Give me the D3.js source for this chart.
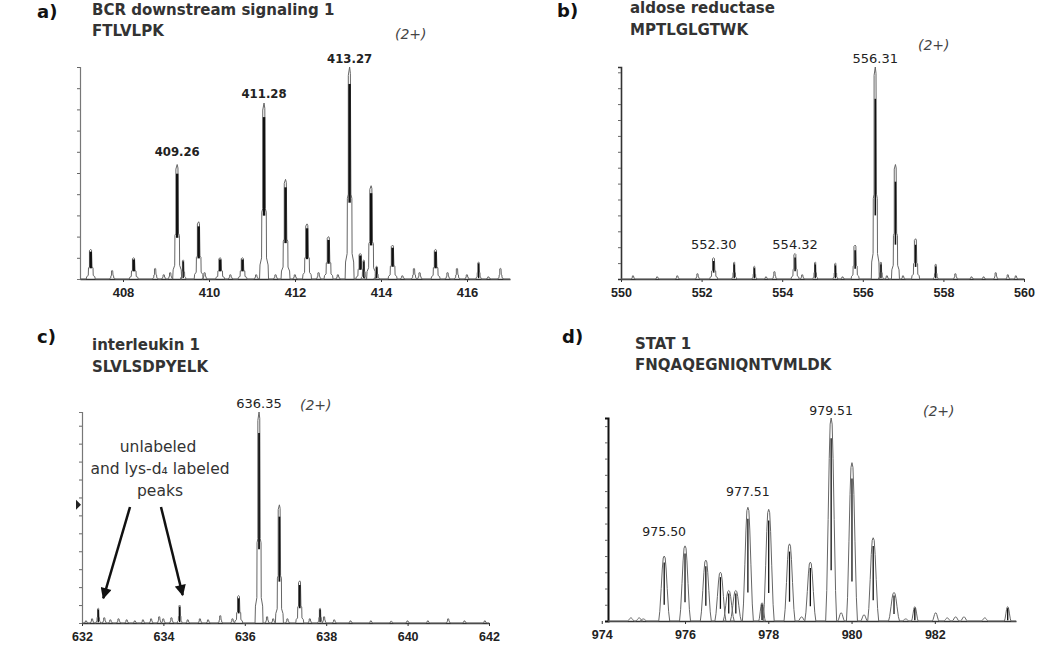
<!DOCTYPE html>
<html><head><meta charset="utf-8">
<script src="https://cdn.jsdelivr.net/npm/d3@7"></script>
<style>body{margin:0;background:#fff} svg{display:block}</style>
</head><body><svg id="chart" width="1050" height="668"></svg>
<script>
// ---------- DATA (m/z, relative intensity %) ----------
const peaksA = [[407.25,14],[407.75,4],[408.25,10],[408.75,5],[408.95,2],[409.1,3],[409.26,54],[409.4,9],[409.76,27],[409.9,3],[410.26,10],[410.5,2],[410.78,10],[411.1,2],[411.28,83],[411.55,2],[411.78,47],[412.0,2],[412.28,26],[412.55,3],[412.78,20],[413.0,2],[413.27,100],[413.52,12],[413.6,9],[413.77,44],[413.9,6],[414.27,16],[414.5,1.5],[414.77,5],[414.9,3],[415.27,14],[415.55,3],[415.77,5],[416.0,2],[416.27,8],[416.5,1],[416.78,5]];
const peaksB = [[550.3,1.5],[550.9,1],[551.4,1.5],[551.9,2.5],[552.30,10],[552.81,8],[553.31,6],[553.6,1],[553.81,3.5],[554.32,12],[554.5,2],[554.82,8],[555.32,7.5],[555.5,1],[555.81,16],[556.31,100],[556.45,8],[556.6,1.5],[556.81,54],[557.0,1.5],[557.31,19],[557.81,7],[558.3,2.5],[558.7,1],[559.0,1],[559.3,3],[559.6,2],[559.8,1.5]];
const peaksC = [[632.1,1],[632.25,2],[632.4,7],[632.55,2.5],[632.7,1.5],[632.9,2],[633.1,1.5],[633.3,1],[633.5,1.5],[633.7,2],[633.9,3],[634.0,2],[634.2,2.5],[634.4,8.5],[634.6,1.5],[634.9,2],[635.1,1.5],[635.4,3.5],[635.7,2],[635.85,13],[636.35,100],[636.55,3],[636.7,2],[636.85,56],[637.05,2],[637.35,20],[637.6,2],[637.85,7],[637.95,3],[638.2,1.5],[638.6,1],[639.1,1],[639.6,0.8],[640.0,1],[640.5,1],[641.0,2],[641.4,1],[641.9,1]];
const peaksD = [[974.7,1.5],[974.9,1.5],[975.0,1],[975.50,32],[976.00,37],[976.50,30],[976.85,24],[977.05,15],[977.22,15],[977.51,56],[977.85,9],[978.01,55],[978.51,38],[978.8,2],[979.01,29],[979.51,100],[979.75,4],[980.01,78],[980.3,3],[980.52,41],[981.02,14],[981.3,1],[981.52,7],[982.02,4],[982.3,1.5],[982.5,2],[982.7,2],[983.2,1.5],[983.75,7]];

const labelsA = ["409.26","411.28","413.27"];
const labelsB = ["552.30","554.32","556.31"];
const labelsC = ["636.35"];
const labelsD = ["975.50","977.51","979.51"];

const ticksA = [408,410,412,414,416];
const ticksB = [550,552,554,556,558,560];
const ticksC = [632,634,636,638,640,642];
const ticksD = [974,976,978,980,982];

const titlesA = ["a)","BCR downstream signaling 1","FTLVLPK"];
const titlesB = ["b)","aldose reductase","MPTLGLGTWK"];
const titlesC = ["c)","interleukin 1","SLVLSDPYELK"];
const titlesD = ["d)","STAT 1","FNQAQEGNIQNTVMLDK"];
const charge = "(2+)";
const annotC = ["unlabeled","and lys-d\u2084 labeled","peaks"];
const arrowTargetsC = [632.4, 634.4];

// ---------- LAYOUT ----------
// peak outline profiles: [relative x (fraction of base half-width, or 't' for top half-width), relative height]
const stepProfile = [[-1,0,"b"],[-0.9,0.08,"b"],[-0.55,0.12,"b"],[-0.5,0.38,"b"],[-1,0.4,"t"],[-1,0.96,"t"],[0,1,"t"],
                     [0.6,0.97,"t"],[1,0.4,"t"],[0.5,0.38,"b"],[0.55,0.12,"b"],[0.9,0.08,"b"],[1,0,"b"]];
const roundProfile = [[-1,0,"b"],[-0.8,0.15,"b"],[-0.55,0.5,"b"],[-0.35,0.8,"b"],[-1,0.97,"t"],[0,1,"t"],
                      [1,0.97,"t"],[0.35,0.8,"b"],[0.55,0.5,"b"],[0.8,0.15,"b"],[1,0,"b"]];

const panels = [
  {peaks:peaksA, labels:labelsA, ticks:ticksA, titles:titlesA, dom:[407,417], xr:[80,510], yr:[279,67],
   tx:37, ty:[18,15,36], chg:[395,39], lblFont:"bold 11.7px 'DejaVu Sans'", lblDy:{"409.26":9,"411.28":5,"413.27":4},
   tickFont:"bold 13px 'Liberation Sans Narrow','Liberation Sans'", ytick:10, yaxisColor:"#777", yaxisW:1.2,
   wb:4.5, wt:1.3, prof:stepProfile, core:[0.36,0.92], coreW:2.4},
  {peaks:peaksB, labels:labelsB, ticks:ticksB, titles:titlesB, dom:[550,560], xr:[621,1024], yr:[279,67],
   tx:557, ty:[17,13,35], chg:[918,50], lblFont:"13px 'DejaVu Sans'", lblDy:{"552.30":9,"554.32":5,"556.31":4},
   tickFont:"bold 12.5px 'Liberation Sans'", ytick:7.5, yaxisColor:"#333", yaxisW:1.6,
   wb:4, wt:1.2, prof:stepProfile, core:[0.3,0.85], coreW:1.6},
  {peaks:peaksC, labels:labelsC, ticks:ticksC, titles:titlesC, dom:[632,642], xr:[82,489], yr:[623,412],
   tx:37, ty:[343,350,372], chg:[300,410], lblFont:"13px 'DejaVu Sans'", lblDy:{"636.35":4},
   tickFont:"bold 12.5px 'Liberation Sans'", ytick:8.5, yaxisColor:"#777", yaxisW:1.2,
   wb:4, wt:1.2, prof:stepProfile, core:[0.35,0.9], coreW:1.8},
  {peaks:peaksD, labels:labelsD, ticks:ticksD, titles:titlesD, dom:[974.15,983.95], xr:[608,1016], yr:[621,418],
   tx:562, ty:[343,349,370], chg:[923,416], lblFont:"12.5px 'DejaVu Sans'", lblDy:{"975.50":20,"977.51":11,"979.51":3},
   tickFont:"bold 12.5px 'Liberation Sans'", ytick:8, yaxisColor:"#111", yaxisW:2,
   wb:5.5, wt:1, prof:roundProfile, core:[0.25,0.9], coreW:1.3}
];

const svg = d3.select("#chart");
const defs = svg.append("defs");
defs.append("marker").attr("id","ah").attr("viewBox","0 0 10 10").attr("refX",9).attr("refY",5)
  .attr("markerWidth",5).attr("markerHeight",4.5).attr("markerUnits","strokeWidth").attr("orient","auto")
  .append("path").attr("d","M0,0 L10,5 L0,10 Z").attr("fill","#111");

panels.forEach((p, i) => {
  const g = svg.append("g");
  const x = d3.scaleLinear().domain(p.dom).range(p.xr);
  const y = d3.scaleLinear().domain([0,100]).range(p.yr);

  // titles
  g.append("text").attr("x",p.tx).attr("y",p.ty[0]).text(p.titles[0])
    .style("font","bold 18px 'DejaVu Sans'").attr("fill","#111");
  g.append("text").attr("x",p.tx+55+(i%2?18:0)).attr("y",p.ty[1]).text(p.titles[1])
    .style("font","bold 15px 'DejaVu Sans'").attr("fill","#333");
  g.append("text").attr("x",p.tx+55+(i%2?18:0)).attr("y",p.ty[2]).text(p.titles[2])
    .style("font","bold 15px 'DejaVu Sans'").attr("fill","#333");
  g.append("text").attr("x",p.chg[0]).attr("y",p.chg[1]).text(charge)
    .style("font","italic 14px 'DejaVu Sans'").attr("fill","#444");

  // y axis (left, small ticks, no labels)
  const yAxis = d3.axisLeft(y).tickValues(d3.range(p.ytick, 100.01, p.ytick)).tickSize(3).tickFormat("");
  const ya = g.append("g").attr("transform",`translate(${p.xr[0]},0)`).call(yAxis);
  ya.select(".domain").attr("stroke",p.yaxisColor).attr("stroke-width",p.yaxisW);
  ya.selectAll(".tick line").attr("stroke","#666");

  // x axis
  const xAxis = d3.axisBottom(x).tickValues(p.ticks).tickSize(3).tickSizeOuter(0).tickFormat(d3.format("d"));
  const xa = g.append("g").attr("transform",`translate(0,${p.yr[0]})`).call(xAxis);
  xa.select(".domain").attr("stroke","#333").attr("stroke-width",1.5);
  xa.selectAll(".tick line").attr("stroke","#333");
  xa.selectAll(".tick text").style("font",p.tickFont).attr("fill","#222").attr("dy","0.95em");

  // spectrum outline
  const sorted = p.peaks.slice().sort((a,b)=>a[0]-b[0]);
  const pts = [[x(p.dom[0]), y(0)]];
  sorted.forEach(([mz, h]) => {
    const cx = x(mz);
    const big = h >= 10;
    const wb = big ? p.wb : p.wb*0.6, wt = big ? p.wt : p.wt*0.6;
    p.prof.forEach(([fx, fy, kind]) => pts.push([cx + fx*(kind==="b"?wb:wt), y(h*fy)]));
  });
  pts.push([x(p.dom[1]), y(0)]);
  g.append("path").attr("d", d3.line()(pts)).attr("fill","none")
    .attr("stroke","#666").attr("stroke-width",1).attr("stroke-linejoin","round");

  // dark centre traces
  g.selectAll("line.core").data(sorted.filter(d => d[1] >= 6)).join("line")
    .attr("x1", d => x(d[0])).attr("x2", d => x(d[0]))
    .attr("y1", d => y(d[1]*(d[1] >= 10 ? p.core[0] : 0.05))).attr("y2", d => y(d[1]*p.core[1]))
    .attr("stroke","#111").attr("stroke-width", d => d[1] >= 10 ? p.coreW : 1.4);

  // peak labels
  p.labels.forEach(lbl => {
    const mz = +lbl;
    const pk = sorted.reduce((a,b)=> Math.abs(b[0]-mz) < Math.abs(a[0]-mz) ? b : a);
    g.append("text").attr("x", x(mz)).attr("y", y(pk[1]) - p.lblDy[lbl])
      .attr("text-anchor","middle").text(lbl).style("font",p.lblFont).attr("fill","#222");
  });

  // panel c annotation
  if (i === 2) {
    const lines = [[158,452],[160,474],[160,496]];
    annotC.forEach((t,k) => g.append("text").attr("x",lines[k][0]).attr("y",lines[k][1])
      .attr("text-anchor","middle").text(t).style("font","15.5px 'DejaVu Sans'").attr("fill","#333"));
    const tails = [[130,507],[161,507]];
    arrowTargetsC.forEach((mz,k) => {
      const pk = sorted.find(d => Math.abs(d[0]-mz) < 0.01);
      const tx = x(mz) + (k===0 ? 5 : 3), ty = y(pk[1]) - 10;
      g.append("line").attr("x1",tails[k][0]).attr("y1",tails[k][1]).attr("x2",tx).attr("y2",ty)
        .attr("stroke","#111").attr("stroke-width",2.5).attr("marker-end","url(#ah)");
    });
    // small marker on y axis
    g.append("path").attr("d",`M${p.xr[0]-6},${y(56)-5} L${p.xr[0]-1},${y(56)} L${p.xr[0]-6},${y(56)+5} Z`).attr("fill","#222");
  }
});
</script>
</body></html>
